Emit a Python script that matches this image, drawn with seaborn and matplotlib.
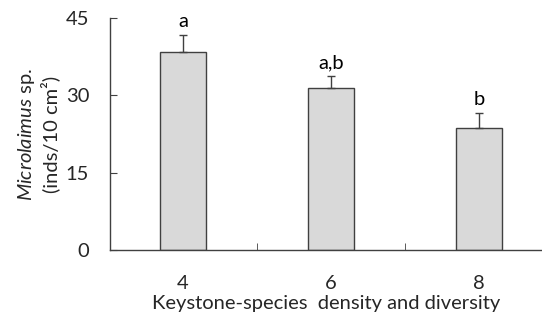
import numpy as np
import pandas as pd
import matplotlib
matplotlib.use("Agg")
import matplotlib.pyplot as plt
import seaborn as sns

# data
levels = ["4", "6", "8"]
means = [38.4, 31.5, 23.6]
errors = [3.3, 2.2, 3.0]
letters = ["a", "a,b", "b"]

sns.set_style("ticks")
plt.rcParams["font.family"] = ["Lato", "DejaVu Sans"]
plt.rcParams["mathtext.fontset"] = "custom"
plt.rcParams["mathtext.rm"] = "Lato"
plt.rcParams["mathtext.it"] = "Lato:italic"

df = pd.DataFrame({"level": levels, "mean": means, "err": errors})

fig = plt.figure(figsize=(5.42, 3.22), dpi=100)
ax = fig.add_axes([0.203, 0.2236, 0.797, 0.7204])

edge = "#404040"
fs = 14.5
sns.barplot(data=df, x="level", y="mean", color="#d9d9d9", edgecolor=edge,
            linewidth=1.0, width=0.31, saturation=1, errorbar=None, ax=ax)

# one-sided error bars
ax.errorbar(np.arange(len(levels)), df["mean"], yerr=[np.zeros(len(levels)), df["err"]],
            fmt="none", ecolor=edge, elinewidth=1.0, capsize=3, capthick=1.0)

for i, (m, e, t) in enumerate(zip(means, errors, letters)):
    ax.text(i, m + e + 1.0, t, ha="center", va="bottom", fontsize=fs, color="black")

ax.set_ylim(0, 45)
ax.set_yticks([0, 15, 30, 45])
ax.set_xlim(-0.493, 2.426)

# ticks between categories, none at the bars
ax.set_xticks([0.5, 1.5], minor=True)
ax.tick_params(axis="x", which="major", length=0, labelsize=fs, pad=18)
ax.tick_params(axis="x", which="minor", direction="in", length=5, color=edge)
ax.tick_params(axis="y", direction="in", length=5, color=edge, labelsize=fs, pad=15)

for s in ["top", "right"]:
    ax.spines[s].set_visible(False)
for s in ["left", "bottom"]:
    ax.spines[s].set_color(edge)
    ax.spines[s].set_linewidth(1.0)

ax.set_xlabel("Keystone-species  density and diversity", fontsize=fs, labelpad=2)
ax.set_ylabel("$\\it{Microlaimus}$ sp.\n(inds/10 cm²)", fontsize=fs, linespacing=1.2)
ax.yaxis.set_label_coords(-0.115, 0.5)

fig.savefig("out.png", dpi=100)
